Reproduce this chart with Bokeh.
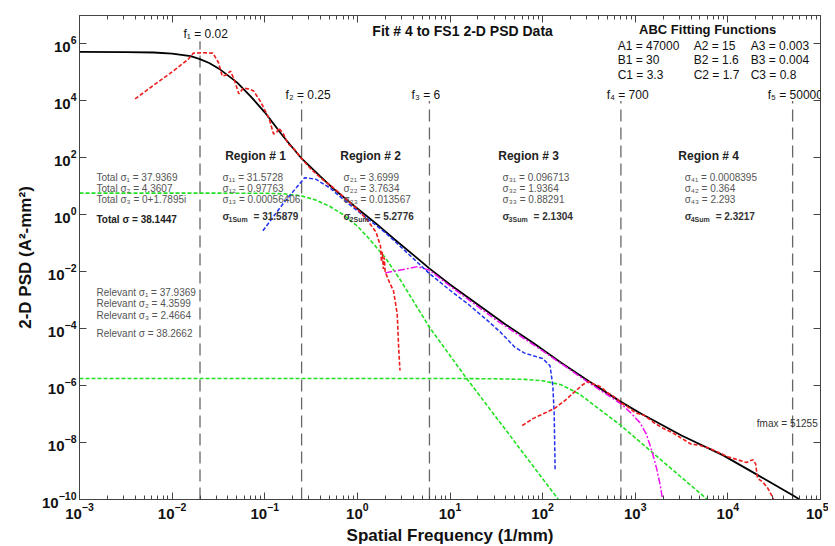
import numpy as np
from bokeh.plotting import figure
from bokeh.models import Label, LogAxis, FixedTicker, LogTickFormatter
from bokeh.embed import file_html
from bokeh.resources import INLINE

# ---------------- data (log10 of frequency / PSD) ----------------
black_logf = [-3.0, -2.5, -2.2, -2.0, -1.8, -1.7, -1.6, -1.48, -1.3, -1.15, -1.0, -0.8, -0.6, -0.4,
              -0.26, 0.0, 0.2, 0.4, 0.6, 0.78, 1.0, 1.3, 1.6, 1.9, 2.2, 2.5, 2.85, 3.06, 3.5, 3.95,
              4.3, 4.7, 4.8]
black_logpsd = [5.72, 5.715, 5.70, 5.66, 5.57, 5.47, 5.33, 5.10, 4.65, 4.15, 3.6, 2.75, 1.97, 1.35,
                0.92, 0.22, -0.3, -0.86, -1.4, -1.89, -2.45, -3.15, -3.85, -4.5, -5.2, -5.85, -6.58,
                -6.98, -7.75, -8.45, -9.1, -9.85, -10.05]

red1_logf = [-2.4, -2.2, -2.0, -1.83, -1.77, -1.66, -1.56, -1.50, -1.46, -1.42, -1.37, -1.33, -1.28,
             -1.23, -1.17, -1.12, -1.06, -1.01, -0.95, -0.905, -0.87, -0.85, -0.80, -0.75, -0.68,
             -0.61, -0.5, -0.38, -0.26, -0.12, 0.0, 0.11, 0.2, 0.25, 0.26, 0.27, 0.28, 0.29, 0.3,
             0.35, 0.39, 0.43, 0.447, 0.46]
red1_logpsd = [4.07, 4.55, 5.02, 5.45, 5.68, 5.69, 5.68, 5.35, 4.88, 4.9, 5.05, 4.75, 4.25, 4.45,
               4.42, 4.35, 4.05, 3.75, 3.35, 2.84, 2.9, 3.05, 2.85, 2.5, 2.3, 2.0, 1.6, 1.25, 0.95,
               0.55, 0.2, -0.2, -0.6, -1.1, -1.65, -1.3, -1.9, -1.5, -2.0, -2.4, -2.67, -3.47,
               -4.77, -5.47]

red2_logf = [1.78, 1.9, 2.0, 2.13, 2.25, 2.35, 2.44, 2.5, 2.55, 2.6, 2.65, 2.7, 2.75, 2.8, 2.85,
             2.9, 3.0, 3.1, 3.2, 3.3, 3.4, 3.5, 3.6, 3.7, 3.8, 3.9, 4.0, 4.1, 4.2, 4.27, 4.3, 4.32,
             4.38, 4.43, 4.48, 4.52]
red2_logpsd = [-7.4, -7.15, -7.0, -6.8, -6.5, -6.2, -5.95, -5.85, -5.95, -6.0, -6.1, -6.25, -6.35,
               -6.45, -6.62, -6.7, -6.95, -7.05, -7.3, -7.5, -7.65, -7.85, -8.05, -8.1, -8.2,
               -8.35, -8.5, -8.6, -8.7, -8.6, -8.75, -9.25, -9.4, -9.6, -9.9, -10.2]

blue_logf = [-1.02, -0.8, -0.57, -0.45, -0.3, -0.1, 0.11, 0.3, 0.46, 0.78, 1.0, 1.2, 1.4, 1.55,
             1.7, 1.8, 1.9, 2.0, 2.08, 2.11, 2.125, 2.13, 2.135]
blue_logpsd = [-0.56, 0.4, 1.3, 1.25, 0.95, 0.4, -0.14, -0.62, -1.1, -2.07, -2.65, -3.15, -3.7,
               -4.14, -4.65, -4.85, -4.95, -5.05, -5.3, -6.0, -7.0, -8.0, -9.0]

magenta_logf = [0.30, 0.45, 0.65, 0.78, 1.0, 1.5, 2.0, 2.5, 2.85, 2.95, 3.05, 3.12, 3.18, 3.23,
                3.27, 3.3]
magenta_logpsd = [-2.04, -1.95, -1.82, -1.95, -2.5, -3.7, -4.78, -5.9, -6.65, -6.95, -7.3, -7.7,
                  -8.3, -8.9, -9.5, -10.1]

green1_logf = [-3.0, -1.5, -1.0, -0.8, -0.61, -0.45, -0.3, -0.15, 0.0, 0.11, 0.3, 0.466, 0.778,
               1.18, 1.6, 2.0, 2.17, 2.2]
green1_logpsd = [0.76, 0.76, 0.755, 0.74, 0.67, 0.52, 0.3, 0.0, -0.4, -0.78, -1.5, -2.3, -3.95,
                 -5.75, -7.55, -9.27, -10.0, -10.15]

green2_logf = [-3.0, 1.0, 1.5, 1.8, 2.0, 2.2, 2.4, 2.6, 2.845, 3.06, 3.4, 3.78, 3.82]
green2_logpsd = [-5.75, -5.75, -5.76, -5.78, -5.83, -5.97, -6.3, -6.8, -7.4, -8.0, -8.95, -10.0,
                 -10.1]

f_cut = [0.02, 0.25, 6, 700, 50000]
f_cut_text = ["f\u2081 = 0.02", "f\u2082 = 0.25", "f\u2083 = 6", "f\u2084 = 700", "f\u2085 = 50000"]

abc_rows = [["A1 = 47000", "A2 = 15", "A3 = 0.003"],
            ["B1 = 30", "B2 = 1.6", "B3 = 0.004"],
            ["C1 = 3.3", "C2 = 1.7", "C3 = 0.8"]]

region_names = ["Region # 1", "Region # 2", "Region # 3", "Region # 4"]
region_sigmas = [["31.5728", "0.97763", "0.00056406"],
                 ["3.6999", "3.7634", "0.013567"],
                 ["0.096713", "1.9364", "0.88291"],
                 ["0.0008395", "0.364", "2.293"]]
region_sums = ["31.5879", "5.2776", "2.1304", "2.3217"]

total_lines = ["Total \u03c3\u2081 = 37.9369", "Total \u03c3\u2082 = 4.3607", "Total \u03c3\u2083 = 0+1.7895i"]
total_sum = "Total \u03c3 = 38.1447"
relevant_lines = ["Relevant \u03c3\u2081 = 37.9369", "Relevant \u03c3\u2082 = 4.3599",
                  "Relevant \u03c3\u2083 = 2.4664", "Relevant \u03c3 = 38.2662"]

x_ticks = [1e-3, 1e-2, 1e-1, 1e0, 1e1, 1e2, 1e3, 1e4, 1e5]
y_ticks = [1e-10, 1e-8, 1e-6, 1e-4, 1e-2, 1e0, 1e2, 1e4, 1e6]

# ---------------- figure ----------------
FONT = "Liberation Sans"
p = figure(x_axis_type="log", y_axis_type="log", x_range=(1e-3, 1e5), y_range=(1e-10, 1e7),
           frame_width=741, frame_height=484, min_border_left=79, min_border_right=8,
           min_border_top=15, min_border_bottom=46, output_backend="svg", toolbar_location=None,
           background_fill_color="white", border_fill_color="white")
p.grid.visible = False
p.outline_line_color = "#444444"

x_minor = [k * 10.0 ** e for e in range(-3, 5) for k in range(2, 10)]


def style_axis(ax, labels=True):
    ax.major_tick_in = 7
    ax.major_tick_out = 0
    ax.minor_tick_in = 4
    ax.minor_tick_out = 0
    ax.axis_line_color = "#444444"
    ax.major_tick_line_color = "#444444"
    ax.minor_tick_line_color = "#444444"
    if labels:
        ax.major_label_text_font = FONT
        ax.major_label_text_font_size = "15px"
        ax.major_label_text_font_style = "bold"
        ax.major_label_text_color = "#111111"
        ax.major_label_standoff = 3
    else:
        ax.major_label_text_font_size = "1px"
        ax.major_label_text_alpha = 0.0
        ax.major_label_standoff = 0


p.xaxis.ticker = FixedTicker(ticks=x_ticks, minor_ticks=x_minor)
p.yaxis.ticker = FixedTicker(ticks=y_ticks, minor_ticks=[])
p.xaxis.formatter = LogTickFormatter()
p.yaxis.formatter = LogTickFormatter()
style_axis(p.xaxis[0])
style_axis(p.yaxis[0])
p.xaxis.axis_label = "Spatial Frequency (1/mm)"
p.yaxis.axis_label = "2-D PSD (A\u00b2-mm\u00b2)"
for ax in (p.xaxis[0], p.yaxis[0]):
    ax.axis_label_text_font = FONT
    ax.axis_label_text_font_size = "17px"
    ax.axis_label_text_font_style = "bold"
    ax.axis_label_text_color = "#111111"
    ax.axis_label_standoff = 4

top_ax = LogAxis(ticker=FixedTicker(ticks=x_ticks, minor_ticks=x_minor))
style_axis(top_ax, labels=False)
p.add_layout(top_ax, "above")
right_ax = LogAxis(ticker=FixedTicker(ticks=y_ticks, minor_ticks=[]))
style_axis(right_ax, labels=False)
p.add_layout(right_ax, "right")

# ---------------- vertical cut lines ----------------
cut_bottom = [1e-10] * len(f_cut)
cut_top = [1.25e6, 1e4, 1e4, 1e4, 1e4]
p.segment(x0=f_cut, y0=cut_bottom, x1=f_cut, y1=cut_top, line_color="#666666",
          line_width=1.3, line_dash="12 6")

# ---------------- curves ----------------
def L(a):
    return 10.0 ** np.array(a, dtype=float)

p.line(L(green1_logf), L(green1_logpsd), line_color="#22e022", line_width=1.6, line_dash="4 2")
p.line(L(green2_logf), L(green2_logpsd), line_color="#22e022", line_width=1.6, line_dash="4 2")
p.line(L(black_logf), L(black_logpsd), line_color="#000000", line_width=1.8)
p.line(L(magenta_logf), L(magenta_logpsd), line_color="#f010f0", line_width=1.5, line_dash="7 2 2 2")
p.line(L(blue_logf), L(blue_logpsd), line_color="#2030ee", line_width=1.5, line_dash="4 2")
p.line(L(red1_logf), L(red1_logpsd), line_color="#ee1c1c", line_width=1.6, line_dash="4 2")
p.line(L(red2_logf), L(red2_logpsd), line_color="#ee1c1c", line_width=1.6, line_dash="4 2")

# ---------------- text ----------------
def at(px, py):
    # reference-picture pixel position -> data coordinates
    return 10 ** (-3 + (px - 79) / 92.6), 10 ** (6 - (py - 43) / 28.5)


def lab(text, px, py, size=10, bold=False, color="#555555", align="left"):
    x, y = at(px, py)
    p.add_layout(Label(x=x, y=y, text=text, text_font=FONT, text_font_size=f"{size}px",
                       text_font_style="bold" if bold else "normal", text_color=color,
                       text_align=align, text_baseline="middle"))


SUB = str.maketrans("0123456789", "\u2080\u2081\u2082\u2083\u2084\u2085\u2086\u2087\u2088\u2089")

lab("Fit # 4 to FS1 2-D PSD Data", 462, 30, 14, True, "#111111", "center")
lab("ABC Fitting Functions", 707, 29, 13, True, "#111111", "center")
for r, row in enumerate(abc_rows):
    for c, t in enumerate(row):
        lab(t, [617, 693, 750][c], [45, 59, 74][r], 12, False, "#111111")

f_label_pos = [(183, 33), (285, 94), (411, 94), (606, 94), (767, 94)]
for t, (px, py) in zip(f_cut_text, f_label_pos):
    lab(t, px, py, 12, False, "#111111")

region_cx = [255, 370, 528, 708]
region_x0 = [222, 343, 502, 684]
rows_y = [177, 188, 199]
for i in range(4):
    lab(region_names[i], region_cx[i], 155, 12, True, "#222222", "center")
    for j in range(3):
        lab(f"\u03c3{str(i + 1).translate(SUB)}{str(j + 1).translate(SUB)} = {region_sigmas[i][j]}",
            region_x0[i], rows_y[j], 10, False, "#555555")
    lab("\u03c3", region_x0[i], 216, 10, True, "#333333")
    lab(f"{i + 1}Sum", region_x0[i] + 6, 219, 7, True, "#333333")
    lab(f"= {region_sums[i]}", region_x0[i] + 31, 216, 10, True, "#333333")

for t, py in zip(total_lines, rows_y):
    lab(t, 96, py, 10, False, "#555555")
lab(total_sum, 96, 219, 10, True, "#222222")
for t, py in zip(relevant_lines, [292, 303, 315, 333]):
    lab(t, 96, py, 10, False, "#555555")

lab("fmax = 51255", 817, 423, 10, False, "#333333", "right")

open("out.html", "w").write(file_html(p, INLINE))
